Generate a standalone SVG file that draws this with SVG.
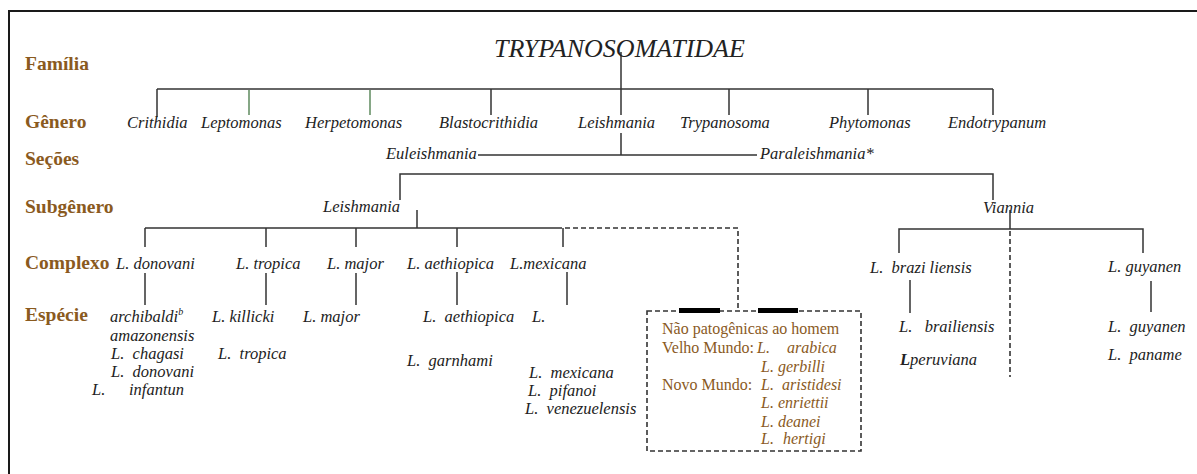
<svg xmlns="http://www.w3.org/2000/svg" width="1197" height="474" viewBox="0 0 1197 474" font-family="Liberation Serif, Times New Roman, serif">
<style>
.bg{fill:#ffffff}
.frame{fill:none;stroke:#1a1a1a;stroke-width:2}
.lvl{font-weight:bold;font-size:19.5px;fill:#8a5a1e}
.tx{font-style:italic;font-size:16.5px;fill:#222}
.title{font-style:italic;font-size:26px;fill:#222}
.bx{font-size:16px;fill:#8a5a1e}
.bxi{font-style:italic}
.ln{fill:none;stroke:#333;stroke-width:1.5}
.gr{fill:none;stroke:#5f8a5f;stroke-width:1.5}
.dash{fill:none;stroke:#333;stroke-width:1.6;stroke-dasharray:5,3}
.bar{fill:#000}
</style>
<rect class="bg" x="0" y="0" width="1197" height="474"/>
<path class="frame" d="M9,474 V11 H1197"/>

<g id="levels" font-family="Liberation Serif, serif">
<text class="lvl" x="25" y="70">Família</text>
<text class="lvl" x="25" y="128">Gênero</text>
<text class="lvl" x="25" y="165">Seções</text>
<text class="lvl" x="25" y="213">Subgênero</text>
<text class="lvl" x="25" y="269">Complexo</text>
<text class="lvl" x="25" y="321">Espécie</text>
</g>

<g id="connectors">
<path class="ln" d="M621,52 V115"/>
<path class="ln" d="M157,89 H993"/>
<path class="ln" d="M157,89 V117 M491,89 V115 M729,89 V115 M868,89 V115 M993,89 V115"/>
<path class="gr" d="M249,90 V115 M370,90 V115"/>
<path class="ln" d="M621,133 V155 M478,155 H757"/>
<path class="ln" d="M400,200 V174 H993 V200"/>
<path class="ln" d="M417,210 V228 M145,228 H557"/>
<path class="ln" d="M145,228 V247 M266,228 V247 M356,228 V247 M457,228 V247 M563,228 V247"/>
<path class="dash" d="M557,228 H738 V309"/>
<path class="ln" d="M145,273 V305 M266,273 V305 M356,273 V305 M457,272 V305 M567,272 V305"/>
<path class="ln" d="M1010,210 V229 M899,253 V229 H1143 V253"/>
<path class="dash" d="M1010,231 V377"/>
<path class="ln" d="M910,280 V313 M1151,281 V312"/>
</g>

<g id="title" font-family="Liberation Serif, serif"><text class="title" x="494" y="57">TRYPANOSOMATIDAE</text></g>

<g id="genera" font-family="Liberation Serif, serif">
<text class="tx" x="127" y="128">Crithidia</text>
<text class="tx" x="201" y="128">Leptomonas</text>
<text class="tx" x="305" y="128">Herpetomonas</text>
<text class="tx" x="439" y="128">Blastocrithidia</text>
<text class="tx" x="578" y="128">Leishmania</text>
<text class="tx" x="680" y="128">Trypanosoma</text>
<text class="tx" x="829" y="128">Phytomonas</text>
<text class="tx" x="948" y="128">Endotrypanum</text>
</g>

<g id="sections" font-family="Liberation Serif, serif">
<text class="tx" x="386" y="159">Euleishmania</text>
<text class="tx" x="760" y="159">Paraleishmania*</text>
</g>

<g id="subgenera" font-family="Liberation Serif, serif">
<text class="tx" x="323" y="212">Leishmania</text>
<text class="tx" x="983" y="213">Viannia</text>
</g>

<g id="complexes" font-family="Liberation Serif, serif">
<text class="tx" x="116" y="269">L. donovani</text>
<text class="tx" x="236" y="269">L. tropica</text>
<text class="tx" x="327" y="269">L. major</text>
<text class="tx" x="407" y="269">L. aethiopica</text>
<text class="tx" x="510" y="269">L.mexicana</text>
<text class="tx" x="870" y="273" xml:space="preserve">L.  brazi liensis</text>
<text class="tx" x="1108" y="272">L. guyanen</text>
</g>

<g id="species-donovani" font-family="Liberation Serif, serif">
<text class="tx" x="110" y="322">archibaldi<tspan font-size="10" dy="-7">b</tspan></text>
<text class="tx" x="110" y="341">amazonensis</text>
<text class="tx" x="111" y="359" xml:space="preserve">L.  chagasi</text>
<text class="tx" x="111" y="377" xml:space="preserve">L.  donovani</text>
<text class="tx" x="92" y="395">L.</text>
<text class="tx" x="129" y="395">infantun</text>
</g>

<g id="species-tropica" font-family="Liberation Serif, serif">
<text class="tx" x="212" y="322">L. killicki</text>
<text class="tx" x="218" y="359" xml:space="preserve">L.  tropica</text>
</g>

<g id="species-major" font-family="Liberation Serif, serif"><text class="tx" x="303" y="322">L. major</text></g>

<g id="species-aethiopica" font-family="Liberation Serif, serif">
<text class="tx" x="423" y="322" xml:space="preserve">L.  aethiopica</text>
<text class="tx" x="407" y="366" xml:space="preserve">L.  garnhami</text>
</g>

<g id="species-mexicana" font-family="Liberation Serif, serif">
<text class="tx" x="532" y="322">L.</text>
<text class="tx" x="529" y="378" xml:space="preserve">L.  mexicana</text>
<text class="tx" x="528" y="396" xml:space="preserve">L.  pifanoi</text>
<text class="tx" x="525" y="414" xml:space="preserve">L.  venezuelensis</text>
</g>

<g id="non-pathogenic" font-family="Liberation Serif, serif">
<rect class="dash" x="647" y="311" width="214" height="140"/>
<rect class="bar" x="679" y="308" width="41" height="5"/>
<rect class="bar" x="758" y="308" width="40" height="5"/>
<text class="bx" x="662" y="334">Não patogênicas ao homem</text>
<text class="bx" x="662" y="353">Velho Mundo:</text>
<text class="bx bxi" x="757" y="353">L.</text>
<text class="bx bxi" x="787" y="353">arabica</text>
<text class="bx bxi" x="761" y="372">L. gerbilli</text>
<text class="bx" x="662" y="390">Novo Mundo:</text>
<text class="bx bxi" x="761" y="390">L.</text>
<text class="bx bxi" x="782" y="390">aristidesi</text>
<text class="bx bxi" x="761" y="408">L. enriettii</text>
<text class="bx bxi" x="761" y="427">L. deanei</text>
<text class="bx bxi" x="761" y="444">L.</text>
<text class="bx bxi" x="783" y="444">hertigi</text>
</g>

<g id="species-braziliensis" font-family="Liberation Serif, serif">
<text class="tx" x="899" y="332" xml:space="preserve">L.   brailiensis</text>
<text class="tx" x="900" y="365"><tspan font-weight="bold" font-style="italic">L</tspan>peruviana</text>
</g>

<g id="species-guyanensis" font-family="Liberation Serif, serif">
<text class="tx" x="1108" y="332" xml:space="preserve">L.  guyanen</text>
<text class="tx" x="1108" y="360" xml:space="preserve">L.  paname</text>
</g>
</svg>
